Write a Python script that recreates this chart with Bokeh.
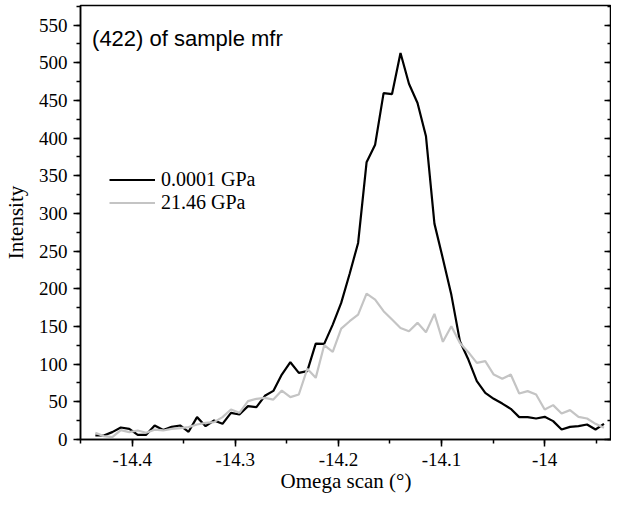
from bokeh.plotting import figure
from bokeh.models import (Range1d, FixedTicker, NumeralTickFormatter, LinearAxis,
                          Legend, LegendItem, Label, CustomJSTickFormatter)
from bokeh.embed import file_html
from bokeh.resources import INLINE

# Omega scan positions (degrees)
omega = [-14.4357, -14.4275, -14.4193, -14.4110, -14.4028, -14.3946, -14.3864, -14.3782,
         -14.3699, -14.3617, -14.3535, -14.3453, -14.3371, -14.3288, -14.3206, -14.3124,
         -14.3042, -14.2960, -14.2877, -14.2795, -14.2713, -14.2631, -14.2549, -14.2466,
         -14.2384, -14.2302, -14.2220, -14.2138, -14.2055, -14.1973, -14.1891, -14.1809,
         -14.1727, -14.1644, -14.1562, -14.1480, -14.1398, -14.1316, -14.1233, -14.1151,
         -14.1069, -14.0987, -14.0905, -14.0822, -14.0740, -14.0658, -14.0576, -14.0494,
         -14.0411, -14.0329, -14.0247, -14.0165, -14.0083, -14.0000, -13.9918, -13.9836,
         -13.9754, -13.9672, -13.9589, -13.9507, -13.9425]

# Intensity at 0.0001 GPa
int_low = [5.3, 5.3, 9.8, 15.9, 14.2, 6.2, 6.2, 18.6, 12.5, 16.8,
           18.6, 10.2, 29.7, 17.7, 25.2, 20.8, 35.4, 33.2, 44.3, 43.0,
           58.0, 64.5, 86.2, 102.6, 88.5, 90.7, 127.3, 126.9, 152.5, 181.3,
           220.0, 260.9, 367.9, 391.3, 459.8, 458.5, 512.9, 472.1, 446.6, 402.4,
           286.5, 240.0, 192.0, 130.5, 106.1, 77.5, 61.9, 54.0, 47.7, 40.7,
           29.7, 29.7, 27.9, 30.1, 24.4, 13.3, 16.8, 17.7, 19.9, 13.3,
           20.8]

# Intensity at 21.46 GPa
int_high = [8.9, 4.5, 3.1, 12.5, 9.8, 12.0, 8.9, 13.0, 12.0, 14.0,
            15.0, 16.4, 19.9, 22.1, 23.0, 29.7, 39.8, 35.4, 50.9, 54.0,
            55.3, 53.0, 65.0, 56.2, 59.7, 93.8, 81.8, 125.2, 116.3, 147.2,
            157.0, 165.8, 193.6, 185.7, 170.3, 159.2, 148.1, 143.7, 154.8, 142.4,
            166.7, 129.6, 150.4, 128.2, 115.9, 101.7, 104.0, 86.2, 80.5, 86.2,
            61.0, 64.2, 59.7, 39.8, 45.6, 34.5, 39.0, 30.1, 27.9, 20.8,
            15.5]

series_names = ["0.0001 GPa", "21.46 GPa"]
x_ticks = [-14.4, -14.3, -14.2, -14.1, -14.0]
x_minor = [-14.45, -14.4, -14.35, -14.3, -14.25, -14.2, -14.15, -14.1, -14.05, -14.0, -13.95]
y_ticks = list(range(0, 551, 50))
y_minor = list(range(0, 576, 25))
x_title = "Omega scan (°)"
y_title = "Intensity"
panel_title = "(422) of sample mfr"

SERIF = "Liberation Serif"

p = figure(width=611, height=495, output_backend="svg", toolbar_location=None,
           x_range=Range1d(-14.4501, -13.9352), y_range=Range1d(0, 576),
           min_border_left=77, min_border_right=0, min_border_top=5, min_border_bottom=56)
p.xgrid.visible = False
p.ygrid.visible = False
p.outline_line_color = "black"
p.outline_line_width = 1.5
p.background_fill_color = "white"
p.border_fill_color = "white"

r_low = p.line(omega, int_low, line_color="black", line_width=2.2)
r_high = p.line(omega, int_high, line_color="#c4c4c4", line_width=2.2)

xa = p.xaxis[0]
xa.ticker = FixedTicker(ticks=x_ticks, minor_ticks=x_minor)
xa.formatter = NumeralTickFormatter(format="0.[0]")
xa.axis_label = x_title
ya = p.yaxis[0]
ya.ticker = FixedTicker(ticks=y_ticks, minor_ticks=y_minor)
ya.axis_label = y_title

for ax in (xa, ya):
    ax.axis_line_width = 1.5
    ax.major_tick_line_width = 1.5
    ax.minor_tick_line_width = 1.5
    ax.major_tick_in = 0
    ax.major_tick_out = 7
    ax.minor_tick_in = 0
    ax.minor_tick_out = 4
    ax.major_label_text_font = SERIF
    ax.major_label_text_font_size = "19px"
    ax.major_label_text_color = "black"
    ax.axis_label_text_font = SERIF
    ax.axis_label_text_font_size = "21px"
    ax.axis_label_text_font_style = "normal"
    ax.axis_label_text_color = "black"
    ax.major_label_standoff = 6
xa.axis_label_standoff = 0
ya.axis_label_standoff = 8

ra = LinearAxis(ticker=FixedTicker(ticks=y_ticks, minor_ticks=y_minor),
                formatter=CustomJSTickFormatter(code="return ''"))
ra.axis_line_width = 1.5
ra.major_tick_line_width = 1.5
ra.minor_tick_line_width = 1.5
ra.major_tick_in = 7
ra.major_tick_out = 0
ra.minor_tick_in = 4
ra.minor_tick_out = 0
ra.major_label_text_font_size = "1px"
ra.major_label_standoff = 0
p.add_layout(ra, "right")

legend = Legend(items=[LegendItem(label=series_names[0], renderers=[r_low]),
                       LegendItem(label=series_names[1], renderers=[r_high])],
                location=(29, 225), padding=0, margin=0, spacing=0,
                glyph_width=46, glyph_height=21, label_height=21, label_standoff=6,
                label_text_font=SERIF, label_text_font_size="20px",
                label_text_color="black",
                border_line_color=None, background_fill_alpha=0)
p.add_layout(legend)

p.add_layout(Label(x=-14.4389, y=532.8, text=panel_title,
                   text_font="Liberation Sans", text_font_size="22px",
                   text_baseline="alphabetic", text_color="black"))

open("out.html", "w").write(file_html(p, INLINE))
